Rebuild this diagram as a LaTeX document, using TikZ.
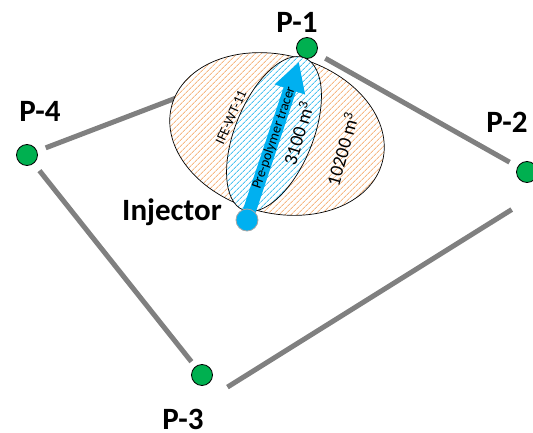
\documentclass[tikz,border=0pt]{standalone}
\usepackage{fontspec}
\setmainfont{Carlito}
\usetikzlibrary{arrows.meta,patterns.meta}
\definecolor{wellgreen}{HTML}{00B050}
\definecolor{injblue}{HTML}{00B0F0}
\definecolor{hatchorange}{HTML}{F6B884}
\definecolor{hatchblue}{HTML}{4CC3F0}
\definecolor{linegray}{HTML}{808080}
\tikzset{
  well/.style={circle, draw=black, line width=0.8pt, fill=wellgreen, minimum size=21pt, inner sep=0pt},
  injwell/.style={circle, draw=gray!70, line width=0.8pt, fill=injblue, minimum size=22pt, inner sep=0pt},
  wlabel/.style={font=\fontsize{31}{31}\selectfont\bfseries, anchor=base, inner sep=0pt},
  conn/.style={draw=linegray, line width=5pt},
  vlabel/.style={font=\fontsize{19}{19}\selectfont, inner sep=0pt},
  slabel/.style={font=\fontsize{14}{14}\selectfont, inner sep=0pt}
}
\begin{document}
\begin{tikzpicture}[x=1pt,y=-1pt]
\useasboundingbox (0,0) rectangle (533,433);
% wells
\node[well] (p1) at (307,48) {};
\node[well] (p2) at (527,172) {};
\node[well] (p3) at (202,375) {};
\node[well] (p4) at (27,155) {};
% connectors
\draw[conn, shorten <=20pt, shorten >=90pt] (p4.center) -- (p1.center);
\draw[conn, shorten <=21pt, shorten >=20pt] (p1.center) -- (p2.center);
\draw[conn, shorten <=18pt, shorten >=30pt] ([yshift=-28pt]p2.center) -- ([yshift=-28pt]p3.center);
\draw[conn, shorten <=17pt, shorten >=20pt] (p3.center) -- (p4.center);
% big ellipse
\coordinate (bigc) at (277,134);
\fill[white, rotate around={-15:(bigc)}] (bigc) ellipse [x radius=109pt, y radius=79pt];
\fill[rotate around={-15:(bigc)}, pattern={Lines[angle=45,distance=4pt,line width=0.9pt]}, pattern color=hatchorange] (bigc) ellipse [x radius=109pt, y radius=79pt];
\draw[black, line width=0.7pt, rotate around={-15:(bigc)}] (bigc) ellipse [x radius=109pt, y radius=79pt];
% small ellipse
\coordinate (smc) at (274,134);
\fill[white, rotate around={68:(smc)}] (smc) ellipse [x radius=82pt, y radius=39pt];
\fill[rotate around={68:(smc)}, pattern={Lines[angle=45,distance=4pt,line width=0.9pt]}, pattern color=hatchblue] (smc) ellipse [x radius=82pt, y radius=39pt];
\draw[black, line width=0.7pt, rotate around={68:(smc)}] (smc) ellipse [x radius=82pt, y radius=39pt];
% arrow
\coordinate (arrs) at (249,212);
\coordinate (arrt) at (299,62);
\draw[injblue, line width=13pt, -{Triangle[width=30pt,length=29pt]}] (arrs) -- (arrt);
% texts inside
\node[slabel, rotate=66] (ife) at (231,117) {IFE-WT-11};
\node[slabel, rotate=71] (tracer) at (274,138) {Pre-polymer tracer};
\node[vlabel, rotate=73] (v1) at (298,133) {3100 m\textsuperscript{3}};
\node[vlabel, rotate=74] (v2) at (342,149) {10200 m\textsuperscript{3}};
% injector
\node[injwell] (inj) at (247,220) {};
% labels
\node[wlabel] (l1) at (297,33) {P-1};
\node[wlabel] (l2) at (507,133) {P-2};
\node[wlabel] (l3) at (183,429) {P-3};
\node[wlabel] (l4) at (40,122) {P-4};
\node[wlabel] (linj) at (172,220) {Injector};
\end{tikzpicture}
\end{document}
